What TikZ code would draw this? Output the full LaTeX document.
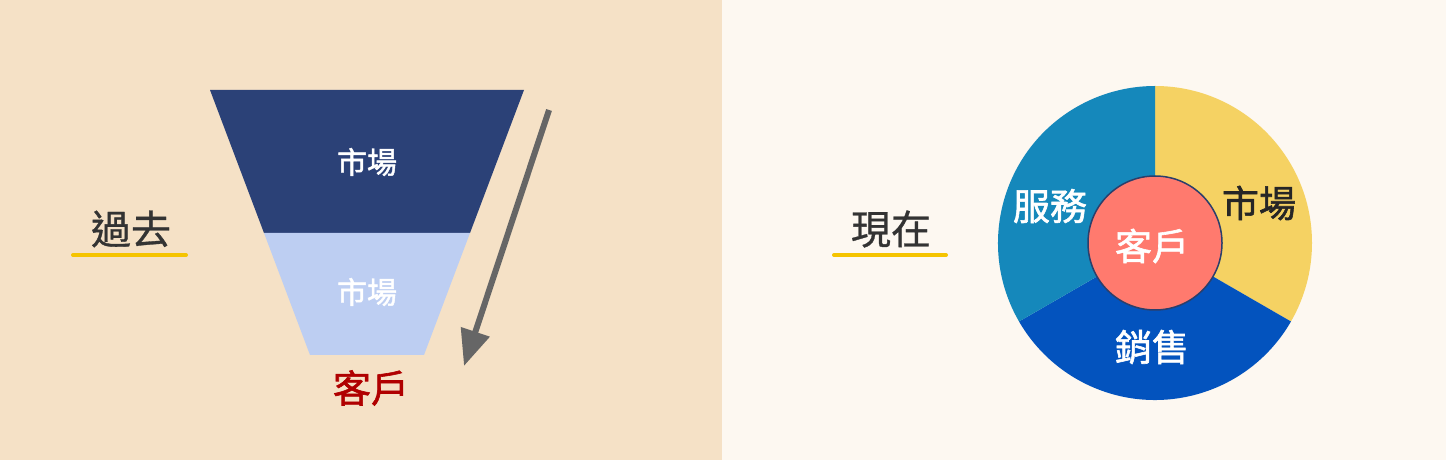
\documentclass[tikz,border=0pt]{standalone}
\usepackage{fontspec}
\setmainfont{Noto Sans CJK TC}
\newfontfamily\medfont{Noto Sans CJK TC}[FakeBold=1.6]
\newfontfamily\titlefont{Noto Sans CJK TC}[FakeBold=0.8]
\usetikzlibrary{arrows.meta}
\definecolor{bgleft}{HTML}{F5E1C6}
\definecolor{bgright}{HTML}{FDF8F1}
\definecolor{funneltop}{HTML}{2B4177}
\definecolor{funnelbot}{HTML}{BDCEF2}
\definecolor{kehu}{HTML}{B00000}
\definecolor{arrowgray}{HTML}{666666}
\definecolor{lineyellow}{HTML}{F5C400}
\definecolor{txtdark}{HTML}{333333}
\definecolor{pieyellow}{HTML}{F5D263}
\definecolor{pieblue}{HTML}{1588BB}
\definecolor{piedeep}{HTML}{0353BE}
\definecolor{coreRed}{HTML}{FF7A6E}
\definecolor{coreline}{HTML}{2B3F6B}
\tikzset{
  title/.style={text=txtdark, font=\titlefont\fontsize{40}{46}\selectfont},
  underline/.style={lineyellow, line width=4pt, line cap=round},
  seglabel/.style={text=white, font=\medfont\fontsize{37}{42}\selectfont},
}
\begin{document}
\begin{tikzpicture}[x=1pt,y=1pt]
\useasboundingbox (0,0) rectangle (1446,460);
\fill[bgright] (0,0) rectangle (1446,460);
\fill[bgleft] (0,0) rectangle (722,460);

% past: funnel
\fill[funneltop] (210,370) -- (524,370) -- (470,227) -- (264,227) -- cycle;
\fill[funnelbot] (264,227) -- (470,227) -- (424,105) -- (310,105) -- cycle;
\node (market1) [text=white, font=\medfont\fontsize{30}{34}\selectfont] at (367,298) {市場};
\node (market2) [text=white, font=\medfont\fontsize{30}{34}\selectfont] at (367,168) {市場};
\node (client1) [text=kehu, font=\medfont\fontsize{38}{42}\selectfont] at (371,72) {客戶};
\coordinate (arrowstart) at (549,350);
\coordinate (arrowend) at (464,94);
\draw [-{Triangle[length=36pt,width=29pt]}, arrowgray, line width=6pt] (arrowstart) -- (arrowend);

\node (past) [title] at (131,231) {過去};
\draw [underline] (73,205) -- (186,205);

% now: circle
\node (now) [title] at (891,231) {現在};
\draw [underline] (834,205) -- (946,205);
\fill[pieyellow] (1155,217) -- ++(90:157) arc (90:-30:157) -- cycle;
\fill[piedeep] (1155,217) -- ++(-30:157) arc (-30:-150:157) -- cycle;
\fill[pieblue] (1155,217) -- ++(210:157) arc (210:90:157) -- cycle;
\draw[coreline, line width=1.5pt, fill=coreRed] (1155,217) circle (67);
\node (client2) [seglabel] at (1152,214) {客戶};
\node (service) [seglabel] at (1050,254) {服務};
\node (market3) [seglabel, text=black!85] at (1259,257) {市場};
\node (sales) [seglabel] at (1152,113) {銷售};
\end{tikzpicture}
\end{document}
